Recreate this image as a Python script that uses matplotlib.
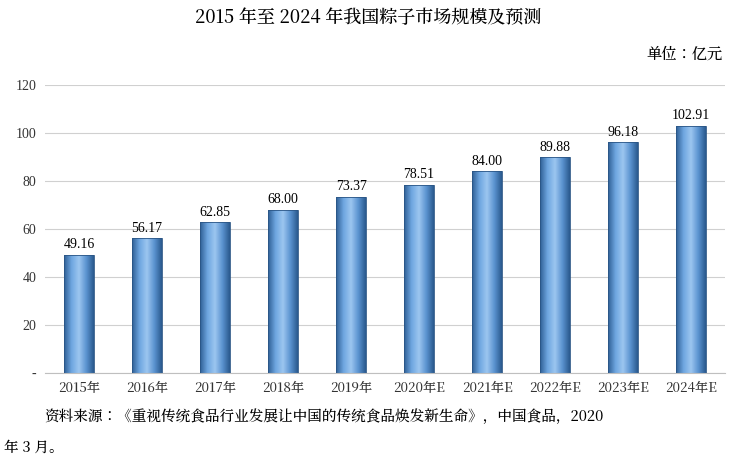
import matplotlib
matplotlib.use("Agg")
import matplotlib.pyplot as plt
import numpy as np
from matplotlib import font_manager as fm

categories = ["2015年","2016年","2017年","2018年","2019年","2020年E","2021年E","2022年E","2023年E","2024年E"]
values = [49.16,56.17,62.85,68.00,73.37,78.51,84.00,89.88,96.18,102.91]
yticks = [0,20,40,60,80,100,120]
ytick_labels = ["-","20","40","60","80","100","120"]

cjk_file = None
for f in fm.findSystemFonts():
    n = f.lower()
    if "notosanscjk" in n.replace("-", "").replace("_", "") or "notoserifcjk" in n.replace("-", ""):
        cjk_file = f
        if "serif" in n:
            break
if cjk_file:
    fm.fontManager.addfont(cjk_file)
    cjk_name = fm.FontProperties(fname=cjk_file).get_name()
else:
    cjk_name = "Noto Sans CJK SC"
fam = ["Liberation Serif", cjk_name]
plt.rcParams["font.family"] = fam

def cp(size, bold=False):
    return fm.FontProperties(fname=cjk_file, size=size, weight="bold" if bold else "normal") if cjk_file else fm.FontProperties(family=cjk_name, size=size)

fig = plt.figure(figsize=(7.37,4.65), dpi=100)
ax = fig.add_axes([0.061,0.198,0.923,0.619])
x = np.arange(len(values))
w = 0.44
ax.set_xlim(-0.5, len(values)-0.5)
ax.set_ylim(0,120)
cmap = matplotlib.colors.LinearSegmentedColormap.from_list("c", ["#2f5f95","#6ea6e0","#9cc6f0","#5b93d0","#2a5a8e"])
grad = np.linspace(0,1,100).reshape(1,-1)
for xi, v in zip(x, values):
    bars = ax.bar(xi, v, width=w, color="none", edgecolor="#2a5585", linewidth=0.6, zorder=3)
    im = ax.imshow(grad, cmap=cmap, extent=[xi-w/2, xi+w/2, 0, v], aspect="auto", zorder=2)
    im.set_clip_path(bars[0])
    ax.text(xi, v+1.5, f"{v:.2f}", ha="center", va="bottom", fontsize=10, family="Liberation Serif")
ax.set_yticks(yticks)
ax.set_yticklabels(ytick_labels, fontsize=10, color="#333333", family="Liberation Serif")
ax.set_xticks(x)
ax.set_xticklabels(categories, color="#333333", fontproperties=cp(9.5))
ax.yaxis.grid(True, color="#d0d0d0", linewidth=0.8, zorder=0)
ax.set_axisbelow(True)
for s in ["top","right","left"]:
    ax.spines[s].set_visible(False)
ax.spines["bottom"].set_color("#bfbfbf")
ax.tick_params(length=0, pad=6)
fig.text(0.5, 0.962, "2015 年至 2024 年我国粽子市场规模及预测", ha="center", va="center", fontproperties=cp(13, True))
fig.text(0.98, 0.882, "单位：亿元", ha="right", va="center", fontproperties=cp(11))
fig.text(0.06, 0.103, "资料来源：《重视传统食品行业发展让中国的传统食品焕发新生命》，中国食品，2020", ha="left", va="center", fontproperties=cp(10.5))
fig.text(0.005, 0.038, "年 3 月。", ha="left", va="center", fontproperties=cp(10.5))
fig.savefig("out.png", dpi=100)
